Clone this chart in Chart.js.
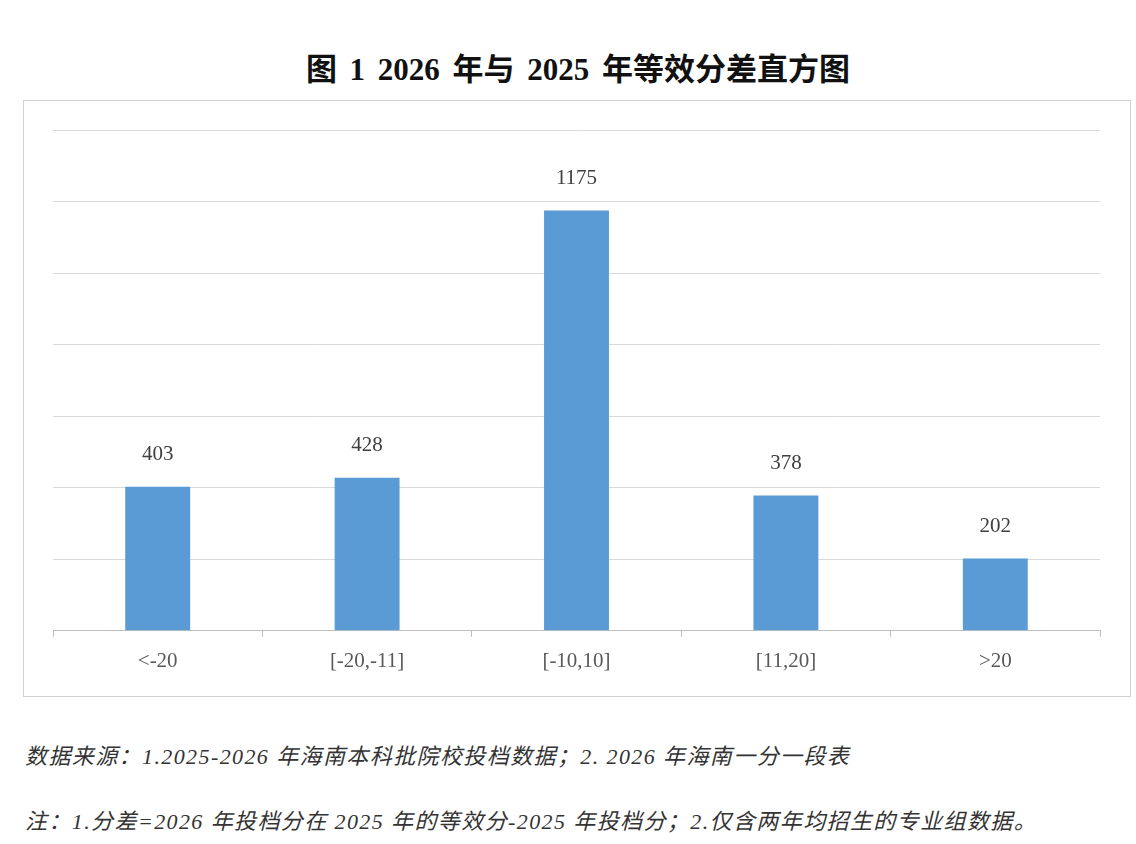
<!DOCTYPE html>
<html>
<head>
<meta charset="utf-8">
<script src="https://cdn.jsdelivr.net/npm/chart.js@4/dist/chart.umd.min.js"></script>
<style>
  html, body { margin: 0; padding: 0; background: #fff; }
  #page { position: relative; width: 1136px; height: 844px; overflow: hidden; background: #fff; }
  #title {
    position: absolute; left: 0; top: 44px; width: 1156px; text-align: center;
    font-family: "Liberation Serif", "Noto Sans CJK SC", serif; font-weight: bold;
    font-size: 31px; word-spacing: 5px; color: #111; white-space: nowrap;
  }
  #box {
    position: absolute; left: 23px; top: 100px; width: 1108px; height: 597px;
    box-sizing: border-box; border: 1px solid #d0d0d0;
  }
  #chart { position: absolute; left: 0; top: 0; }
  .note {
    position: absolute; left: 25px; white-space: nowrap;
    font-family: "Liberation Serif", "Noto Sans CJK SC", serif; font-style: italic;
    font-size: 22px; letter-spacing: 1.4px; color: #333;
  }
</style>
</head>
<body>
<div id="page">
  <div id="title">图 1 2026 年与 2025 年等效分差直方图</div>
  <div id="box"><canvas id="chart" width="1106" height="595"></canvas></div>
  <div class="note" style="top:738px">数据来源：1.2025-2026 年海南本科批院校投档数据；2.  2026 年海南一分一段表</div>
  <div class="note" style="top:803px">注：1.分差=2026 年投档分在 2025 年的等效分-2025 年投档分；2.仅含两年均招生的专业组数据。</div>
</div>
<script>
var categories = ["<-20", "[-20,-11]", "[-10,10]", "[11,20]", ">20"];
var counts = [403, 428, 1175, 378, 202];
var yMax = 1400;
var yStep = 200;

// draws the value above each bar
var valueLabels = {
    id: 'valueLabels',
    afterDatasetsDraw: function(chart) {
        var c = chart.ctx;
        var meta = chart.getDatasetMeta(0);
        c.save();
        c.fillStyle = '#404040';
        c.font = '21px "Liberation Serif", serif';
        c.textAlign = 'center';
        c.textBaseline = 'bottom';
        meta.data.forEach(function(bar, i) {
            c.fillText(counts[i], bar.x, bar.y - 22);
        });
        c.restore();
    }
};

var ctx = document.getElementById('chart').getContext('2d');
var chart = new Chart(ctx, {
    type: 'bar',
    data: {
        labels: categories,
        datasets: [{
            label: '专业组数',
            data: counts,
            backgroundColor: '#5b9bd5',
            borderWidth: 0,
            categoryPercentage: 1,
            barPercentage: 0.31
        }]
    },
    options: {
        responsive: false,
        animation: false,
        devicePixelRatio: 1,
        layout: { padding: { left: 29, right: 30, top: 29, bottom: 10 } },
        plugins: {
            legend: { display: false },
            tooltip: { enabled: false }
        },
        scales: {
            x: {
                grid: { drawOnChartArea: false, drawTicks: true, tickLength: 6, color: '#bfbfbf' },
                border: { color: '#bfbfbf' },
                ticks: {
                    color: '#595959',
                    padding: 12,
                    font: { family: '"Liberation Serif", serif', size: 21 }
                }
            },
            y: {
                min: 0,
                max: yMax,
                ticks: { display: false, stepSize: yStep },
                grid: { color: '#d9d9d9', drawTicks: false },
                border: { display: false }
            }
        }
    },
    plugins: [valueLabels]
});
</script>
</body>
</html>
